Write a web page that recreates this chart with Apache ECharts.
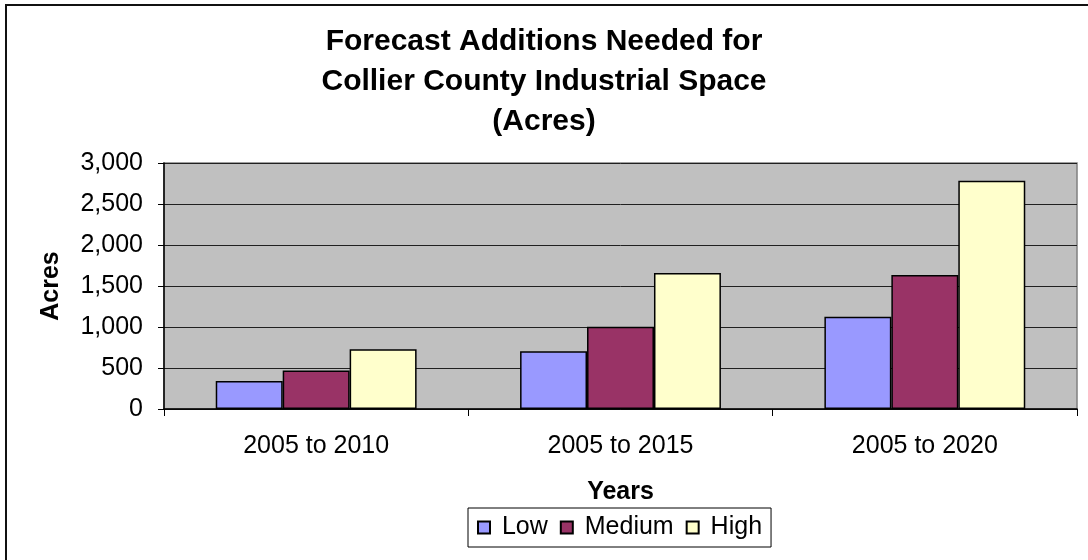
<!DOCTYPE html>
<html>
<head>
<meta charset="utf-8">
<style>
  html, body { margin: 0; padding: 0; background: #fff; }
  #chart { width: 1088px; height: 560px; }
</style>
<script src="https://cdn.jsdelivr.net/npm/echarts@6/dist/echarts.min.js"></script>
</head>
<body>
<div id="chart"></div>
<script>
// categories and values
const categories = ['2005 to 2010', '2005 to 2015', '2005 to 2020']
const lowValues = [342, 705, 1125]
const mediumValues = [469, 1002, 1634]
const highValues = [730, 1659, 2784]
const yTicks = [0, 500, 1000, 1500, 2000, 2500, 3000]

const font = 'Arial, "Liberation Sans", sans-serif'

let chart = echarts.init(document.getElementById('chart'))

let barSeries = (name, data, color) => ({
  name,
  type: 'bar',
  data,
  barGap: 0,
  barCategoryGap: '34%',
  itemStyle: { color, borderColor: '#000', borderWidth: 1.5 }
})

chart.setOption({
  backgroundColor: '#fff',
  animation: false,
  textStyle: { fontFamily: font, color: '#000' },
  title: {
    text: 'Forecast Additions Needed for\nCollier County Industrial Space\n(Acres)',
    left: 'center',
    top: 17,
    textStyle: { fontFamily: font, fontSize: 30, fontWeight: 'bold', lineHeight: 40, color: '#000' }
  },
  grid: {
    left: 164,
    right: 11,
    top: 163,
    bottom: 151,
    show: true,
    backgroundColor: '#c0c0c0',
    borderColor: '#808080',
    borderWidth: 1.5
  },
  legend: {
    left: 468,
    top: 508,
    data: ['Low', 'Medium', 'High'],
    icon: 'rect',
    itemWidth: 12,
    itemHeight: 12,
    itemGap: 12,
    padding: [7, 9, 7, 9],
    borderColor: '#000',
    borderWidth: 1,
    formatter: name => ' ' + name,
    textStyle: { fontFamily: font, fontSize: 25, color: '#000' }
  },
  xAxis: {
    type: 'category',
    data: categories,
    name: 'Years',
    nameLocation: 'middle',
    nameGap: 71,
    nameTextStyle: { fontFamily: font, fontSize: 25, fontWeight: 'bold', color: '#000' },
    axisLine: { lineStyle: { color: '#000', width: 1.5 } },
    axisTick: { show: true, length: 7, lineStyle: { color: '#000' } },
    axisLabel: { fontFamily: font, fontSize: 25, color: '#000', margin: 25 }
  },
  yAxis: {
    type: 'value',
    min: yTicks[0],
    max: yTicks[yTicks.length - 1],
    interval: yTicks[1] - yTicks[0],
    name: 'Acres',
    nameLocation: 'middle',
    nameGap: 100,
    nameRotate: 90,
    nameTextStyle: { fontFamily: font, fontSize: 25, fontWeight: 'bold', color: '#000' },
    axisLine: { show: true, lineStyle: { color: '#000', width: 1.5 } },
    axisTick: { show: true, length: 6, lineStyle: { color: '#000' } },
    axisLabel: {
      fontFamily: font,
      fontSize: 25,
      color: '#000',
      margin: 21,
      formatter: v => v.toLocaleString('en-US')
    },
    splitLine: { lineStyle: { color: '#202020', width: 1 } }
  },
  series: [
    barSeries('Low', lowValues, '#9999ff'),
    barSeries('Medium', mediumValues, '#993366'),
    barSeries('High', highValues, '#ffffcc')
  ],
  graphic: [
    {
      // outer chart border, only top and left show in the crop
      type: 'rect',
      shape: { x: 6, y: 5, width: 1200, height: 700 },
      style: { fill: null, stroke: '#111', lineWidth: 2 },
      silent: true
    }
  ]
})
</script>
</body>
</html>
